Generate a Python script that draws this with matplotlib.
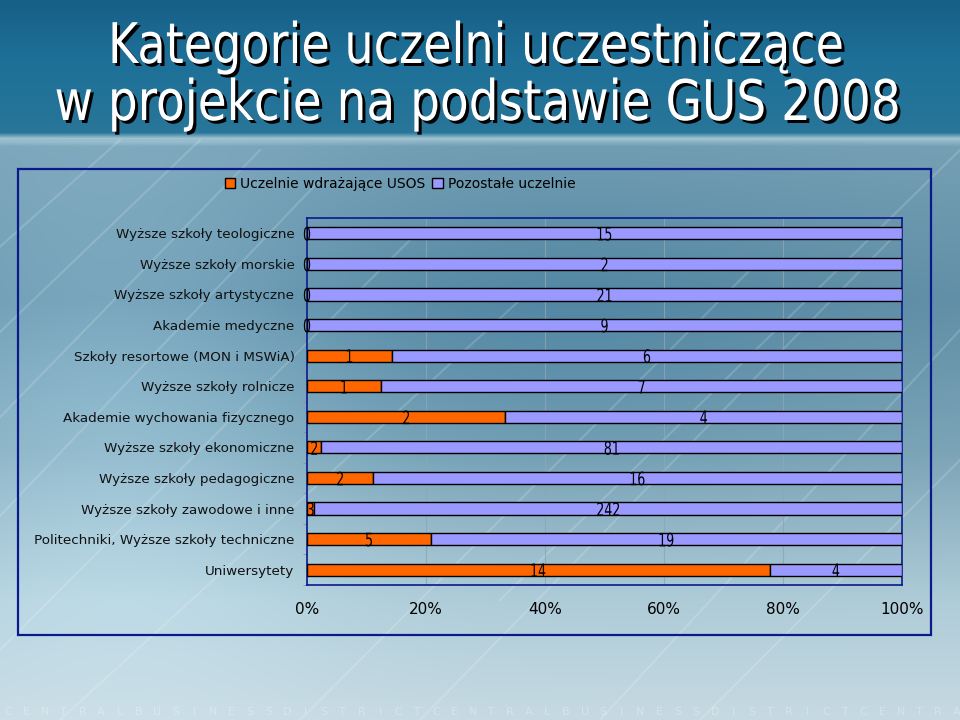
import numpy as np
import matplotlib
matplotlib.use("Agg")
import matplotlib.pyplot as plt
from matplotlib.patches import Rectangle, PathPatch
from matplotlib.lines import Line2D
from matplotlib.textpath import TextPath
from matplotlib.font_manager import FontProperties
from matplotlib.transforms import Affine2D, IdentityTransform

# ---------------- data ----------------
categories = [
    "Wyższe szkoły teologiczne",
    "Wyższe szkoły morskie",
    "Wyższe szkoły artystyczne",
    "Akademie medyczne",
    "Szkoły resortowe (MON i MSWiA)",
    "Wyższe szkoły rolnicze",
    "Akademie wychowania fizycznego",
    "Wyższe szkoły ekonomiczne",
    "Wyższe szkoły pedagogiczne",
    "Wyższe szkoły zawodowe i inne",
    "Politechniki, Wyższe szkoły techniczne",
    "Uniwersytety",
]
usos = [0, 0, 0, 0, 1, 1, 2, 2, 2, 3, 5, 14]
pozostale = [15, 2, 21, 9, 6, 7, 4, 81, 16, 242, 19, 4]
series_names = ["Uczelnie wdrażające USOS", "Pozostałe uczelnie"]
tick_labels = ["0%", "20%", "40%", "60%", "80%", "100%"]
title_lines = ["Kategorie uczelni uczestniczące", "w projekcie na podstawie GUS 2008"]

REG = "DejaVu Sans"
FP = FontProperties(family=REG)

W, H = 960, 720
fig = plt.figure(figsize=(9.6, 7.2), dpi=100)


def condensed_text(s, x_px, y_px, size_px, sx, color, ha="center", va="center",
                   zorder=10, target_width=None):
    """Draw a horizontally condensed text as a path, in figure pixels (origin top-left)."""
    tp = TextPath((0, 0), s, size=size_px, prop=FP)
    bb = tp.get_extents()
    if target_width is not None:
        sx = target_width / bb.width
    ax0 = {"center": (bb.x0 + bb.x1) / 2, "left": bb.x0, "right": bb.x1}[ha]
    ay0 = {"center": (bb.y0 + bb.y1) / 2, "baseline": 0.0}[va]
    tr = Affine2D().translate(-ax0, -ay0).scale(sx, 1).translate(x_px, H - y_px)
    patch = PathPatch(tp, transform=tr + IdentityTransform(), facecolor=color,
                      edgecolor="none", zorder=zorder)
    fig.add_artist(patch)
    return sx


# ---------------- background ----------------
bg_ax = fig.add_axes([0, 0, 1, 1], zorder=-10)
bg_ax.set_axis_off()
keys_y = [0, 60, 132, 138, 146, 300, 450, 600, 720]
keys_c = np.array([
    (22, 95, 135), (30, 112, 152), (40, 118, 152), (160, 195, 210), (118, 160, 180),
    (100, 145, 168), (125, 165, 183), (175, 204, 216), (198, 218, 226)], float) / 255
ys = np.arange(H)
col = np.stack([np.interp(ys, keys_y, keys_c[:, k]) for k in range(3)], axis=1)
img = np.repeat(col[:, None, :], W, axis=1)
xx, yy = np.meshgrid(np.arange(W), np.arange(H))
blob1 = np.exp(-(((xx - 120) / 220) ** 2 + ((yy - 400) / 260) ** 2))
blob2 = np.exp(-(((xx - 560) / 300) ** 2 + ((yy - 330) / 170) ** 2))
mask = (yy > 140)[..., None]
img = img + mask * (0.10 * blob1[..., None] - 0.07 * blob2[..., None] * np.array([1, 0.6, 0.3]))
img = np.clip(img, 0, 1)
bg_ax.imshow(img, extent=[0, W, H, 0], aspect="auto", interpolation="bilinear")
bg_ax.set_xlim(0, W)
bg_ax.set_ylim(H, 0)
streaks = [(-100, 520, 260, 150), (-80, 600, 320, 180), (0, 650, 420, 230), (60, 720, 520, 300),
           (300, 720, 760, 260), (420, 720, 900, 230), (600, 720, 960, 330), (700, 720, 960, 460),
           (-50, 380, 200, 140), (-60, 300, 120, 140), (500, 600, 960, 150)]
for x0, y0, x1, y1 in streaks:
    bg_ax.add_line(Line2D([x0, x1], [y0, y1], color="white", alpha=0.16, lw=1.5))
wm = "CENTRALBUSINESSDISTRICTCENTRALBUSINESSDISTRICTCENTRA"
for i, ch in enumerate(wm):
    bg_ax.text(8 + i * 18.6, 712, ch, color="white", alpha=0.3, fontsize=8,
               family=REG, ha="center", va="center")

# ---------------- title (condensed, with shadow) ----------------
title_pos = [(477, 63, 729), (477, 120, 841)]
for s, (cx, base, tw) in zip(title_lines, title_pos):
    condensed_text(s, cx + 3, base + 3, 56, 1, "black", va="baseline", zorder=20, target_width=tw)
    condensed_text(s, cx, base, 56, 1, "white", va="baseline", zorder=21, target_width=tw)

# ---------------- chart border ----------------
fig.patches.append(Rectangle((18 / W, 1 - 635 / H), (931 - 18) / W, (635 - 169) / H,
                             transform=fig.transFigure, fill=False, edgecolor="#0a1a8c",
                             lw=1.6, zorder=1))

# ---------------- plot ----------------
ax = fig.add_axes([307 / W, 1 - 585 / H, (902 - 307) / W, (585 - 218) / H])
ax.set_facecolor("none")
u = np.array(usos, float)
p = np.array(pozostale, float)
tot = u + p
up = u / tot * 100
pp = p / tot * 100
y = np.arange(len(categories))
orange = "#FF6600"
lav = "#9999FF"
b1 = ax.barh(y, up, height=0.4, color=orange, edgecolor="black", lw=1.0, label=series_names[0], zorder=3)
b2 = ax.barh(y, pp, left=up, height=0.4, color=lav, edgecolor="black", lw=1.0, label=series_names[1], zorder=3)

ax.set_xlim(0, 100)
ax.set_ylim(len(categories) - 0.5, -0.5)
ax.set_xticks(np.arange(0, 101, 20))
ax.set_xticklabels(tick_labels, family=REG, fontsize=11)
ax.set_yticks(y)
ax.set_yticklabels(categories, family=REG, fontsize=9.7, color="#111111")
ax.set_yticks(np.arange(-0.5, len(categories), 1), minor=True)
ax.tick_params(axis="y", which="major", length=0, pad=9)
ax.tick_params(axis="y", which="minor", length=3, color="#7f93a3", direction="out")
ax.tick_params(axis="x", length=0, pad=12, colors="black")
ax.grid(axis="x", color="#8ea6b6", lw=0.8, alpha=0.8, zorder=0)
for s in ax.spines.values():
    s.set_color("#0a1a8c")
    s.set_linewidth(1.2)

# value labels (condensed), positioned through the axes' data transform
fig.canvas.draw()
for i in range(len(categories)):
    for xv, lab in ((up[i] / 2, usos[i]), (up[i] + pp[i] / 2, pozostale[i])):
        dx, dy = ax.transData.transform((xv, y[i]))
        condensed_text(str(lab), dx, H - dy + 0.5, 18.5, 0.68, "black", zorder=30)

# ---------------- legend ----------------
leg = fig.legend(handles=[b1, b2], labels=series_names, loc="center",
                 bbox_to_anchor=(400 / W, 1 - 184 / H), ncol=2, frameon=False,
                 prop={"family": REG, "size": 10}, handlelength=0.75, handleheight=0.75,
                 handletextpad=0.35, columnspacing=0.5, borderaxespad=0)

fig.savefig("out.png", dpi=100)
